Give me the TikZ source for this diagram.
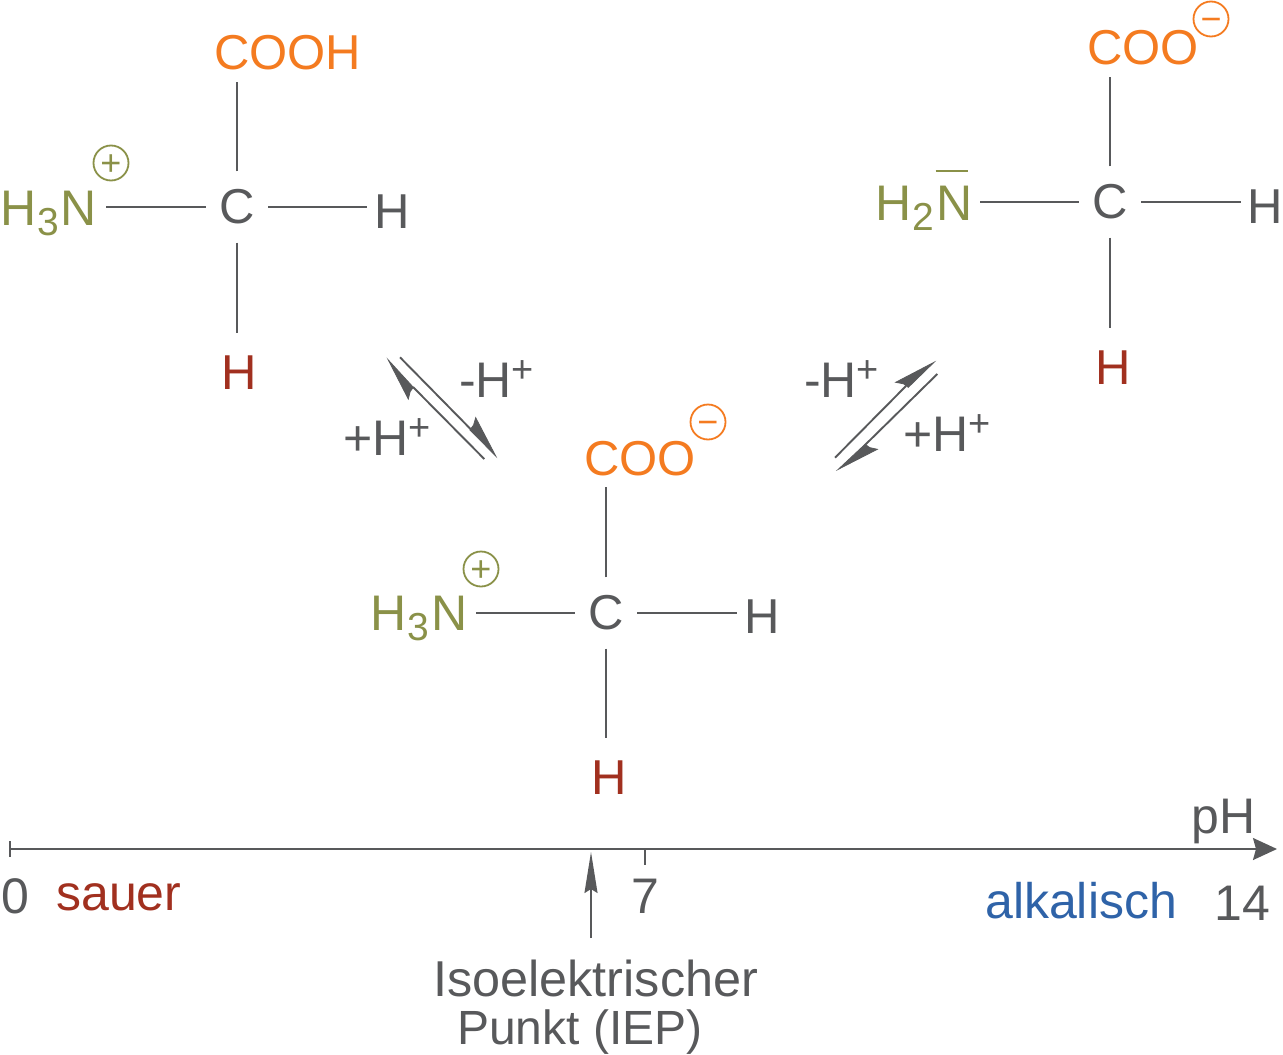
\documentclass[tikz,border=0pt]{standalone}
\usepackage{fontspec}
\setmainfont{Liberation Sans}
\usetikzlibrary{arrows.meta}
\definecolor{gr}{HTML}{58595B}
\definecolor{orng}{HTML}{F47B20}
\definecolor{olv}{HTML}{8A9148}
\definecolor{rd}{HTML}{A1301F}
\definecolor{blu}{HTML}{2F63A8}
\newcommand\Up[1]{\raisebox{15.5pt}{\fontsize{38}{38}\selectfont #1}}
\newcommand\Dn[1]{\kern1.5pt\raisebox{-10pt}{\fontsize{39}{39}\selectfont #1}\kern1.5pt}
\newcommand\Ch[1]{\smash{\raisebox{-12.5pt}{#1}}}
\tikzset{
 x=1pt,y=-1pt,
 txt/.style={inner sep=0pt,anchor=base west,font=\fontsize{49}{49}\selectfont,text=gr},
 lab/.style={inner sep=0pt,anchor=base west,font=\fontsize{50}{50}\selectfont,text=gr},
 amin/.style={inner sep=0pt,anchor=base west,font=\fontsize{50}{50}\selectfont,text=olv},
 cen/.style={inner sep=0pt,minimum width=62pt,minimum height=71pt,font=\fontsize{49}{49}\selectfont,text=gr},
 bond/.style={draw=gr,line width=1.6pt},
 chg/.style={circle,draw=#1,text=#1,line width=1.8pt,inner sep=0pt,minimum size=35pt,font=\fontsize{36}{36}\selectfont},
 shaft/.style={draw=gr,line width=1.9pt},
 head/.style={fill=gr,draw=gr,line width=0.8pt,line join=miter},
 axs/.style={draw=gr,line width=1.8pt},
}
\begin{document}
\begin{tikzpicture}
\useasboundingbox (0,0) rectangle (1283,1055);
% molecule 1
\node[cen] (c1) at (237,207) {\raisebox{-1pt}{C}};
\node[txt,text=orng] (top1) at (214,69.5) {COOH};
\node[amin] (n1) at (0,225) {H\Dn{3}N};
\node[txt] (r1) at (374,228.5) {H};
\node[txt,text=rd] (b1) at (221,389.5) {H};
\node[chg=olv] (p1) at (111,163) {\Ch{+}};
\coordinate (t1) at (237,82); \coordinate (w1) at (106,207); \coordinate (e1) at (367,207); \coordinate (s1) at (237,333);
\draw[bond] (c1.north) -- (t1);
\draw[bond] (c1.west) -- (w1);
\draw[bond] (c1.east) -- (e1);
\draw[bond] (c1.south) -- (s1);
% molecule 3
\node[cen] (c3) at (606,613) {\raisebox{-1pt}{C}};
\node[txt,text=orng] (top3) at (584,475.5) {COO};
\node[amin] (n3) at (370,630) {H\Dn{3}N};
\node[txt] (r3) at (744,633.5) {H};
\node[txt,text=rd] (b3) at (591,794.5) {H};
\node[chg=olv] (p3) at (481,569) {\Ch{+}};
\node[chg=orng] (m3) at (708,422) {\Ch{−}};
\coordinate (t3) at (606,487); \coordinate (w3) at (476,613); \coordinate (e3) at (737,613); \coordinate (s3) at (606,738);
\draw[bond] (c3.north) -- (t3);
\draw[bond] (c3.west) -- (w3);
\draw[bond] (c3.east) -- (e3);
\draw[bond] (c3.south) -- (s3);
% molecule 2
\node[cen] (c2) at (1110,202) {\raisebox{-1pt}{C}};
\node[txt,text=orng] (top2) at (1087,64.5) {COO};
\node[amin] (n2) at (875,220) {H\Dn{2}\rlap{\kern-0.5pt\raisebox{48pt}{\rule{32pt}{1.8pt}}}N};
\node[txt] (r2) at (1247,223.5) {H};
\node[txt,text=rd] (b2) at (1095,384.5) {H};
\node[chg=orng] (m2) at (1211,19) {\Ch{−}};
\coordinate (t2) at (1110,77); \coordinate (w2) at (980,202); \coordinate (e2) at (1241,202); \coordinate (s2) at (1110,328);
\draw[bond] (c2.north) -- (t2);
\draw[bond] (c2.west) -- (w2);
\draw[bond] (c2.east) -- (e2);
\draw[bond] (c2.south) -- (s2);
% equilibrium arrows left
\coordinate (la) at (400,357.3); \coordinate (la2) at (472,430.5);
\coordinate (lb) at (495.7,456); \coordinate (lw1) at (475.7,417.7); \coordinate (ln1) at (473.6,425); \coordinate (lw2) at (470,430);
\coordinate (lc) at (484.3,459); \coordinate (lc2) at (413,387);
\coordinate (ld) at (388.3,360); \coordinate (lw3) at (408.3,399); \coordinate (ln2) at (410.2,391.5); \coordinate (lw4) at (413.3,387.3);
\draw[shaft] (la) -- (la2);
\filldraw[head] (lb) -- (lw1) -- (ln1) -- (lw2) -- cycle;
\draw[shaft] (lc) -- (lc2);
\filldraw[head] (ld) -- (lw3) -- (ln2) -- (lw4) -- cycle;
\node[lab] (lm) at (459,397.5) {-H\Up{+}};
\node[lab] (lp) at (343,455.5) {+H\Up{+}};
% equilibrium arrows right
\coordinate (ra) at (835,457.7); \coordinate (ra2) at (906,386);
\coordinate (rb) at (934,362.3); \coordinate (rw1) at (895.7,382.3); \coordinate (rn1) at (903.5,383.8); \coordinate (rw2) at (908.3,387.3);
\coordinate (rc) at (937.3,374); \coordinate (rc2) at (865,445);
\coordinate (rd2) at (838.3,469.3); \coordinate (rw3) at (877.3,449.3); \coordinate (rn2) at (869.7,447.6); \coordinate (rw4) at (865,444.3);
\draw[shaft] (ra) -- (ra2);
\filldraw[head] (rb) -- (rw1) -- (rn1) -- (rw2) -- cycle;
\draw[shaft] (rc) -- (rc2);
\filldraw[head] (rd2) -- (rw3) -- (rn2) -- (rw4) -- cycle;
\node[lab] (rm) at (804,397.5) {-H\Up{+}};
\node[lab] (rp) at (903,451.5) {+H\Up{+}};
% axis
\coordinate (a0) at (10,849); \coordinate (a1) at (1277,849);
\coordinate (k0) at (10,841); \coordinate (k1) at (10,857);
\coordinate (s7) at (645,849); \coordinate (e7) at (645,865);
\coordinate (i0) at (591,938); \coordinate (i1) at (591,852);
\draw[axs,-{Stealth[length=24pt,width=22pt,inset=3pt,fill=gr]}] (a0) -- (a1);
\draw[axs] (k0) -- (k1);
\draw[axs] (s7) -- (e7);
\draw[axs,-{Stealth[length=41pt,width=13pt,inset=4pt,fill=gr]}] (i0) -- (i1);
\node[lab] (ph) at (1191,833) {pH};
\node[lab] (z) at (1,913) {0};
\node[lab,text=rd] (sa) at (56,910) {sauer};
\node[lab] (se) at (631,913) {7};
\node[lab,text=blu] (al) at (985,918) {alkalisch};
\node[lab] (ft) at (1214,920) {14};
\node[lab,font=\fontsize{50.4}{50.4}\selectfont] (iso) at (433,996) {Isoelektrischer};
\node[lab,font=\fontsize{48}{48}\selectfont] (pk) at (457,1044) {Punkt (IEP)};
\end{tikzpicture}
\end{document}
